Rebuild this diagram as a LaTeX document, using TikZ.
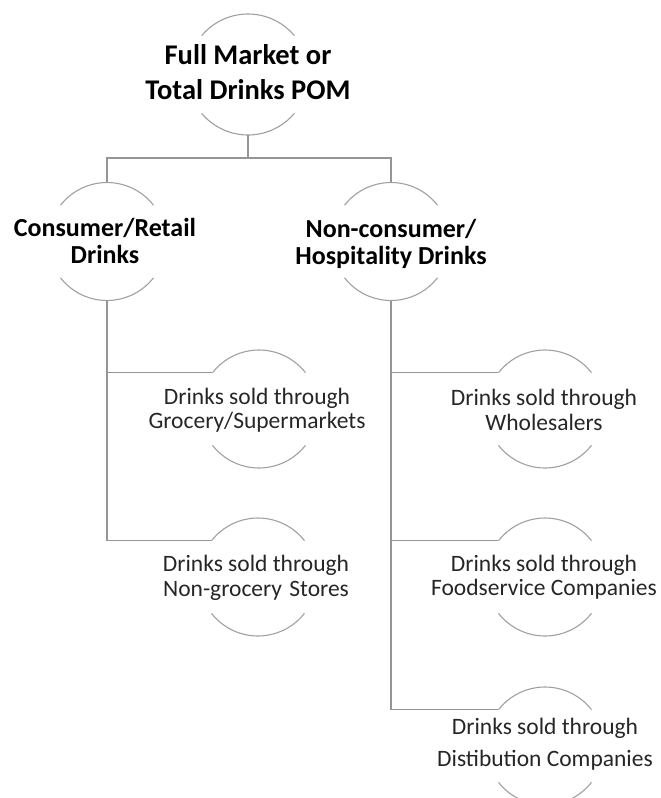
\documentclass[tikz,border=0pt]{standalone}
\usepackage{fontspec}
\setmainfont{Carlito}
\definecolor{arcgray}{HTML}{A0A0A0}
\definecolor{lngray}{HTML}{959595}
\definecolor{txtgray}{HTML}{262626}
\newcommand\ringarcs[3]{%
  \draw[arcline] ([shift={(#3:#2)}]#1.center) arc[start angle=#3,end angle=180-#3,radius=#2];
  \draw[arcline] ([shift={(180+#3:#2)}]#1.center) arc[start angle=180+#3,end angle=360-#3,radius=#2];}
\begin{document}
\begin{tikzpicture}[x=1pt,y=1pt,
  ring/.style={circle,draw=none,inner sep=0pt,minimum size=118pt},
  bigring/.style={circle,draw=none,inner sep=0pt,minimum size=121pt},
  arcline/.style={draw=arcgray,line width=1.1pt},
  conn/.style={draw=lngray,line width=1.2pt},
  lvlone/.style={font=\fontsize{28.5}{35}\selectfont\bfseries,align=center,inner sep=0pt,text=black},
  lvltwo/.style={font=\fontsize{26}{26.5}\selectfont\bfseries,align=center,inner sep=0pt,text=black},
  lvlthree/.style={font=\fontsize{23.5}{24.5}\selectfont,align=center,inner sep=0pt,text=txtgray}]
\clip (0,0) rectangle (661,-798);
\useasboundingbox (0,0) rectangle (661,-798);
% circles
\node[bigring] (c0) at (248,-74.5) {};
\node[ring] (c1) at (107,-241.5) {};
\node[ring] (c2) at (391,-241.5) {};
\node[ring] (c3) at (259,-409) {};
\node[ring] (c4) at (258,-577) {};
\node[ring] (c5) at (545,-409) {};
\node[ring] (c6) at (545,-577) {};
\node[ring] (c7) at (545,-746) {};
\ringarcs{c0}{60.5}{40}
\ringarcs{c1}{59}{38}
\ringarcs{c2}{59}{38}
\ringarcs{c3}{59}{38}
\ringarcs{c4}{59}{38}
\ringarcs{c5}{59}{38}
\ringarcs{c6}{59}{38}
\ringarcs{c7}{59}{38}
% connectors
\coordinate (bar) at (0,-158);
\draw[conn] (c0.south) -- (c0.south |- bar);
\draw[conn] (c1.north) -- (c1.north |- bar) -- (c2.north |- bar) -- (c2.north);
\draw[conn] (c1.south) -- (c1.south |- c4.142) -- (c4.142);
\draw[conn] (c1.south |- c3.142) -- (c3.142);
\draw[conn] (c2.south) -- (c2.south |- c7.142) -- (c7.142);
\draw[conn] (c2.south |- c5.142) -- (c5.142);
\draw[conn] (c2.south |- c6.142) -- (c6.142);
% texts
\node[lvlone] (t0) at (248,-72.5) {Full Market or\\Total Drinks POM};
\node[lvltwo] (t1) at (105,-241) {Consumer/Retail\\Drinks};
\node[lvltwo] (t2) at (391,-244) {Non-consumer/\\Hospitality Drinks};
\node[lvlthree] (t3) at (257,-410) {Drinks sold through\\Grocery/Supermarkets};
\node[lvlthree] (t4) at (256,-578) {Drinks sold through\\Non-grocery\hspace{0.08em} Stores};
\node[lvlthree] (t5) at (544,-410) {Drinks sold through\\Wholesalers};
\node[lvlthree] (t6) at (544,-577) {Drinks sold through\\Foodservice Companies};
\node[lvlthree] (t7) at (545,-744) {Drinks sold through\\[7.5pt]Distibution Companies};
\end{tikzpicture}
\end{document}
